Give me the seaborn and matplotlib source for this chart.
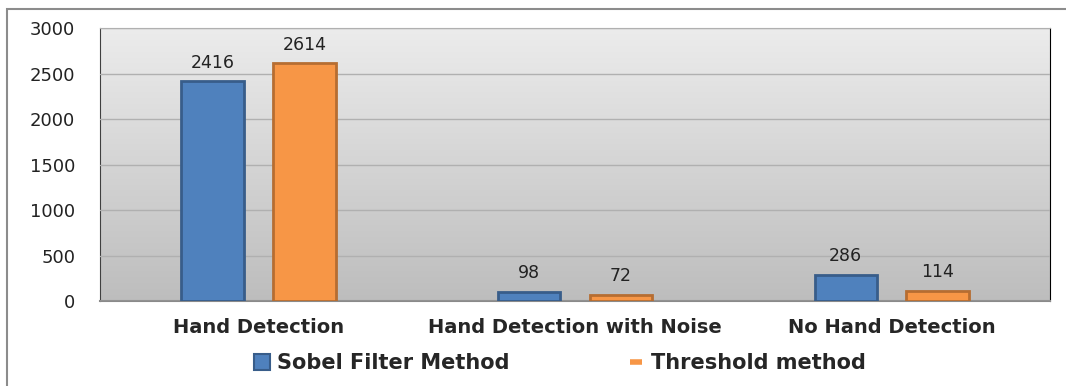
import numpy as np
import pandas as pd
import seaborn as sns
import matplotlib.pyplot as plt
from matplotlib.lines import Line2D
from matplotlib.patches import Rectangle

categories = ["Hand Detection", "Hand Detection with Noise", "No Hand Detection"]
methods = ["Sobel Filter Method", "Threshold method"]
sobel = [2416, 98, 286]
threshold = [2614, 72, 114]

df = pd.DataFrame({
    "category": categories * 2,
    "method": [methods[0]] * 3 + [methods[1]] * 3,
    "count": sobel + threshold,
})

sns.set_style("white")
plt.rcParams["font.family"] = ["DejaVu Sans"]

fig = plt.figure(figsize=(10.66, 3.86), dpi=100)
ax = fig.add_axes([0.094, 0.22, 0.891, 0.707])

# gradient background of the plot area
grad = np.linspace(0, 1, 256).reshape(-1, 1)
ax.imshow(grad, cmap=plt.matplotlib.colors.LinearSegmentedColormap.from_list(
    "bg", ["#bdbdbd", "#ececec"]), aspect="auto", origin="lower",
    extent=[-0.5, 2.5, 0, 3000], zorder=0)

palette = {methods[0]: "#4f81bd", methods[1]: "#f79646"}
sns.barplot(data=df, x="category", y="count", hue="method", palette=palette,
            width=0.58, gap=0.32, saturation=1, ax=ax, legend=False, zorder=3)

edges = ["#385d8a", "#b66d31"]
for cont, ec in zip(ax.containers, edges):
    for p in cont:
        p.set_edgecolor(ec)
        p.set_linewidth(2)
    ax.bar_label(cont, padding=7, fontsize=12.5, color="#222222")

ax.set_xlim(-0.5, 2.5)
ax.set_ylim(0, 3000)
ax.set_yticks(range(0, 3001, 500))
ax.yaxis.grid(True, color="#b0b0b0", linewidth=1, zorder=1)
ax.set_axisbelow(False)
ax.set_xlabel("")
ax.set_ylabel("")
ax.tick_params(axis="y", length=0, pad=18, labelsize=13, labelcolor="#222222")
ax.tick_params(axis="x", length=0, pad=12, labelsize=14)
for lab in ax.get_xticklabels():
    lab.set_fontweight("bold")

ax.spines["left"].set_color("#404040")
ax.spines["right"].set_color("#000000")
ax.spines["top"].set_color("#9a9a9a")
ax.spines["bottom"].set_color("#8a8a8a")
ax.spines["bottom"].set_linewidth(1.5)

handles = [
    Line2D([], [], linestyle="none", marker="s", markersize=11,
           markerfacecolor="#4f81bd", markeredgecolor="#385d8a", markeredgewidth=1.5),
    Line2D([], [], linestyle="none", marker="_", markersize=8,
           markeredgecolor="#f79646", markeredgewidth=4),
]
fig.legend(handles, methods, loc="center", bbox_to_anchor=(0.523, 0.06), ncol=2,
           frameon=False, handletextpad=0.1, handlelength=1.2, columnspacing=5.5,
           prop={"weight": "bold", "size": 15})

# outer chart border
fig.patches.append(Rectangle((7 / 1066, -0.05), 1.1, 1 - 9 / 386 + 0.05,
                             transform=fig.transFigure, fill=False,
                             edgecolor="#8c8c8c", linewidth=1.5))

fig.savefig("out.png", dpi=100)
